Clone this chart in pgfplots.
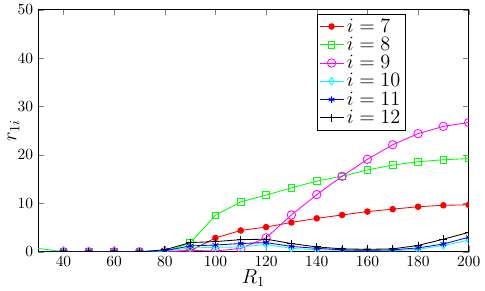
\documentclass[border={2pt 0pt 0pt 0pt}]{standalone}
\usepackage{pgfplots}
\pgfplotsset{compat=1.18}
\definecolor{pr}{rgb}{1,0,0}
\definecolor{pg}{rgb}{0,1,0}
\definecolor{pm}{rgb}{1,0,1}
\definecolor{pc}{rgb}{0,1,1}
\definecolor{pb}{rgb}{0,0,1}
\begin{document}
\begin{tikzpicture}
\begin{axis}[
  scale only axis,
  width=305pt, height=171.5pt,
  xmin=30, xmax=200, ymin=0, ymax=50,
  xtick={40,60,...,200}, ytick={0,10,...,50},
  tick align=inside, tick pos=both,
  major tick length=4pt,
  tick label style={font=\fontsize{11}{13}\selectfont},
  clip marker paths=true,
  xlabel={\Large $R_1$}, ylabel={\Large $r_{1i}$},
  xlabel style={yshift=5pt},
  ylabel style={yshift=-8pt},
  legend style={at={(0.647,0.984)}, anchor=north west, font=\Large,
    draw=black, inner sep=1.5pt, row sep=-2pt},
  legend cell align=left,
  every axis plot/.append style={line width=0.6pt},
]
\addplot[pr, mark=*, mark size=2pt] coordinates {
(20,0)(40,0)(50,0)(60,0)(70,0)(80,0)(90,0.2)(100,2.86)(110,4.4)(120,5.1)(130,6.05)(140,6.9)(150,7.6)(160,8.3)(170,8.8)(180,9.3)(190,9.6)(200,9.7)};
\addlegendentry{$i=7$}
\addplot[pg, mark=square, mark size=2.3pt] coordinates {
(20,1.4)(40,0)(50,0)(60,0)(70,0)(80,0)(90,1.8)(100,7.55)(110,10.3)(120,11.7)(130,13.2)(140,14.6)(150,15.6)(160,16.9)(170,17.9)(180,18.6)(190,19.0)(200,19.25)};
\addlegendentry{$i=8$}
\addplot[pm, mark=o, mark size=3pt] coordinates {
(20,0)(40,0)(50,0)(60,0)(70,0)(80,0)(90,0.3)(100,0.15)(110,0.7)(120,2.86)(130,7.6)(140,11.8)(150,15.6)(160,19.1)(170,22.1)(180,24.4)(190,25.9)(200,26.7)};
\addlegendentry{$i=9$}
\addplot[pc, mark=diamond, mark size=2.6pt] coordinates {
(20,0)(40,0)(50,0)(60,0)(70,0)(80,0.1)(90,0.8)(100,0.9)(110,1.0)(120,1.5)(130,0.7)(140,0.4)(150,0.3)(160,0.2)(170,0.2)(180,0.5)(190,1.3)(200,2.4)};
\addlegendentry{$i=10$}
\addplot[pb, mark=asterisk, mark size=2.3pt] coordinates {
(20,0)(40,0)(50,0)(60,0)(70,0)(80,0.2)(90,1.2)(100,1.4)(110,1.7)(120,1.9)(130,1.1)(140,0.7)(150,0.4)(160,0.3)(170,0.4)(180,0.8)(190,1.6)(200,3.0)};
\addlegendentry{$i=11$}
\addplot[black, mark=+, mark size=2.8pt] coordinates {
(20,0)(40,0)(50,0)(60,0)(70,0)(80,0.4)(90,1.9)(100,2.1)(110,2.5)(120,2.6)(130,1.7)(140,1.0)(150,0.6)(160,0.5)(170,0.6)(180,1.3)(190,2.6)(200,4.0)};
\addlegendentry{$i=12$}
\end{axis}
\end{tikzpicture}
\end{document}
